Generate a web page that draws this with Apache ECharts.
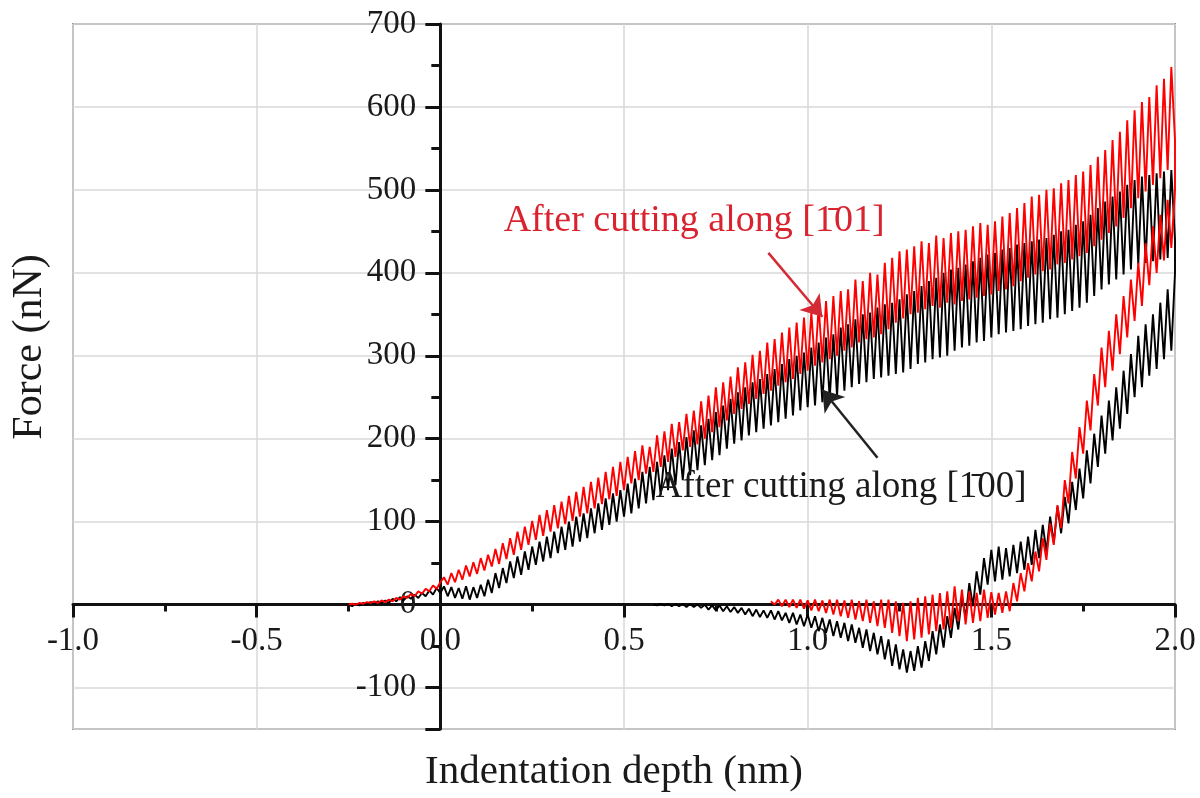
<!DOCTYPE html>
<html>
<head>
<meta charset="utf-8">
<script src="https://cdn.jsdelivr.net/npm/echarts@6/dist/echarts.min.js"></script>
<style>html,body{margin:0;padding:0;background:#fff}#c{width:1200px;height:798px}</style>
</head>
<body>
<div id="c"></div>
<script>
// ---------- DATA ----------
const xTitle = 'Indentation depth (nm)';
const yTitle = 'Force (nN)';
const seriesNames = ['After cutting along [1\u030400]', 'After cutting along [1\u030401]'];
const annotationTexts = ['After cutting along [1\u030400]', 'After cutting along [1\u030401]'];

// depth samples of the loading branch (nm)
const loadDepth = [
-0.25,-0.24,-0.23,-0.22,-0.21,-0.20,-0.19,-0.18,-0.17,-0.16,-0.15,-0.14,-0.13,-0.12,-0.11,-0.10,-0.09,-0.08,-0.07,-0.06,-0.05,-0.04,-0.03,-0.02,-0.01,
0.00,0.01,0.02,0.03,0.04,0.05,0.06,0.07,0.08,0.09,
0.10,0.11,0.12,0.13,0.14,0.15,0.16,0.17,0.18,0.19,
0.20,0.21,0.22,0.23,0.24,0.25,0.26,0.27,0.28,0.29,
0.30,0.31,0.32,0.33,0.34,0.35,0.36,0.37,0.38,0.39,
0.40,0.41,0.42,0.43,0.44,0.45,0.46,0.47,0.48,0.49,
0.50,0.51,0.52,0.53,0.54,0.55,0.56,0.57,0.58,0.59,
0.60,0.61,0.62,0.63,0.64,0.65,0.66,0.67,0.68,0.69,
0.70,0.71,0.72,0.73,0.74,0.75,0.76,0.77,0.78,0.79,
0.80,0.81,0.82,0.83,0.84,0.85,0.86,0.87,0.88,0.89,
0.90,0.91,0.92,0.93,0.94,0.95,0.96,0.97,0.98,0.99,
1.00,1.01,1.02,1.03,1.04,1.05,1.06,1.07,1.08,1.09,
1.10,1.11,1.12,1.13,1.14,1.15,1.16,1.17,1.18,1.19,
1.20,1.21,1.22,1.23,1.24,1.25,1.26,1.27,1.28,1.29,
1.30,1.31,1.32,1.33,1.34,1.35,1.36,1.37,1.38,1.39,
1.40,1.41,1.42,1.43,1.44,1.45,1.46,1.47,1.48,1.49,
1.50,1.51,1.52,1.53,1.54,1.55,1.56,1.57,1.58,1.59,
1.60,1.61,1.62,1.63,1.64,1.65,1.66,1.67,1.68,1.69,
1.70,1.71,1.72,1.73,1.74,1.75,1.76,1.77,1.78,1.79,
1.80,1.81,1.82,1.83,1.84,1.85,1.86,1.87,1.88,1.89,
1.90,1.91,1.92,1.93,1.94,1.95,1.96,1.97,1.98,1.99,
2.00];

// depth samples of the unloading branch (nm)
const unloadDepth = [
2.00,1.99,1.98,1.97,1.96,1.95,1.94,1.93,1.92,1.91,
1.90,1.89,1.88,1.87,1.86,1.85,1.84,1.83,1.82,1.81,
1.80,1.79,1.78,1.77,1.76,1.75,1.74,1.73,1.72,1.71,
1.70,1.69,1.68,1.67,1.66,1.65,1.64,1.63,1.62,1.61,
1.60,1.59,1.58,1.57,1.56,1.55,1.54,1.53,1.52,1.51,
1.50,1.49,1.48,1.47,1.46,1.45,1.44,1.43,1.42,1.41,
1.40,1.39,1.38,1.37,1.36,1.35,1.34,1.33,1.32,1.31,
1.30,1.29,1.28,1.27,1.26,1.25,1.24,1.23,1.22,1.21,
1.20,1.19,1.18,1.17,1.16,1.15,1.14,1.13,1.12,1.11,
1.10,1.09,1.08,1.07,1.06,1.05,1.04,1.03,1.02,1.01,
1.00,0.99,0.98,0.97,0.96,0.95,0.94,0.93,0.92,0.91,
0.90,0.89,0.88,0.87,0.86,0.85,0.84,0.83,0.82,0.81,
0.80,0.79,0.78,0.77,0.76,0.75,0.74,0.73,0.72,0.71,
0.70,0.69,0.68,0.67,0.66,0.65,0.64,0.63,0.62,0.61,
0.60,0.59,0.58];

// force (nN), after cutting along [-101] (red)
const redLoad = [
0,1,0,2,1,3,2,4,2,5,3,6,4,8,6,10,8,13,10,16,13,19,16,23,19,
27,33,24,38,27,42,30,47,34,51,
37,56,41,60,46,67,49,74,55,80,
60,88,66,94,72,101,78,108,83,114,
88,120,92,124,97,131,101,136,106,142,
110,148,116,153,121,160,127,166,131,172,
138,178,146,185,150,192,158,190,160,204,
166,209,172,218,178,220,186,230,190,234,
193,245,200,252,208,262,214,268,222,275,
230,286,236,292,242,301,248,306,254,316,
258,320,264,328,268,334,272,340,278,346,
282,352,288,360,292,366,296,372,300,378,
306,380,310,392,316,390,320,400,322,398,
326,412,332,418,340,426,345,428,350,432,
352,438,356,436,360,445,358,442,364,448,
362,450,366,452,368,456,370,460,372,458,
374,462,378,468,380,472,384,478,390,484,
394,492,398,494,402,500,404,502,410,508,
412,512,416,518,420,522,424,530,432,540,
440,548,448,560,456,570,466,584,478,596,
490,606,498,612,506,626,514,634,524,648,
560];
const redUnload = [
500,430,488,415,470,400,456,385,436,360,
412,342,392,322,372,302,350,282,330,262,
310,240,278,210,246,182,214,152,184,122,
150,92,120,72,98,54,80,40,64,28,
50,16,38,4,26,-8,16,-10,14,-12,
15,-16,18,-20,14,-22,16,-24,18,-20,
22,-28,16,-30,14,-32,12,-36,10,-40,
8,-42,4,-44,2,-38,4,-34,6,-28,
6,-26,4,-22,6,-20,4,-18,6,-16,
5,-14,6,-12,6,-10,5,-8,6,-7,
5,-5,6,-4,6,-3,6,-2,6,0,
4];

// force (nN), after cutting along [-100] (black)
const blackLoad = [
0,-2,1,-1,2,0,3,1,4,2,5,2,7,4,9,5,10,7,12,8,14,10,17,12,20,
14,22,10,21,8,20,7,22,6,21,
8,24,10,30,14,38,20,44,26,52,
32,58,36,64,42,70,48,76,52,82,
56,88,62,94,66,100,70,106,76,110,
80,116,86,122,90,128,96,134,100,138,
106,146,110,152,116,160,122,166,126,172,
132,180,138,188,144,196,150,202,156,210,
162,216,168,224,174,232,180,240,188,248,
194,256,198,262,204,268,208,272,212,278,
216,284,220,290,224,296,228,300,234,304,
238,310,240,316,244,322,248,326,252,334,
258,338,262,344,266,350,268,352,272,358,
274,362,276,364,278,368,280,374,284,378,
290,384,292,390,296,394,298,400,300,404,
306,406,310,410,312,414,316,418,318,422,
322,424,326,428,328,430,330,434,332,436,
336,438,338,440,340,442,344,446,346,450,
350,452,354,458,358,462,364,470,372,478,
380,486,386,492,392,498,398,506,404,512,
410,516,412,518,414,520,416,522,418,524,
440];
const blackUnload = [
400,306,380,296,364,284,350,276,338,262,
324,250,302,230,282,212,262,198,246,182,
228,166,206,146,186,128,164,114,148,98,
130,86,118,74,106,64,96,56,90,48,
82,42,76,38,72,34,68,30,70,28,
66,24,56,12,40,-2,26,-16,10,-30,
-4,-40,-14,-52,-24,-60,-32,-68,-44,-76,
-50,-80,-56,-82,-54,-78,-48,-74,-42,-66,
-38,-60,-34,-56,-30,-52,-28,-46,-24,-44,
-22,-40,-20,-38,-18,-34,-16,-32,-14,-28,
-12,-26,-12,-24,-10,-22,-10,-19,-8,-18,
-7,-16,-7,-15,-6,-14,-5,-12,-4,-10,
-3,-9,-2,-8,-1,-7,-1,-6,0,-4,
0,-3,1,-3,1,-2,1,-2,1,-1,
1,-1,0];

// axis ranges
const xRange = [-1, 2];
const yRange = [-150, 700];

// ---------- CHART ----------
function curve(load, unload) {
  const out = [];
  load.forEach((v, i) => out.push([loadDepth[i], v]));
  unload.forEach((v, i) => out.push([unloadDepth[i], v]));
  return out;
}

const FONT = 'Liberation Serif';
const G = { left: 73, right: 25, top: 24, bottom: 69 };
const W = 1200, H = 798;
const plotW = W - G.left - G.right;
const plotH = H - G.top - G.bottom;
// shift axes so that they cross at zero, labels following the lines
const xAxisOffset = -plotH * (0 - yRange[0]) / (yRange[1] - yRange[0]);
const yAxisOffset = -plotW * (0 - xRange[0]) / (xRange[1] - xRange[0]);

const axisColor = '#111';
const chart = echarts.init(document.getElementById('c'), null, { renderer: 'canvas' });
chart.setOption({
  animation: false,
  backgroundColor: '#fff',
  grid: { left: G.left, right: G.right, top: G.top, bottom: G.bottom, show: true,
          borderColor: '#8c8c8c', borderWidth: 2, backgroundColor: 'transparent' },
  xAxis: {
    type: 'value', min: xRange[0], max: xRange[1], interval: 0.5,
    position: 'bottom', offset: xAxisOffset,
    axisLine: { onZero: false, lineStyle: { color: axisColor, width: 3 } },
    axisTick: { show: true, inside: false, length: 13, lineStyle: { color: axisColor, width: 3 } },
    minorTick: { show: true, splitNumber: 2, length: 7, lineStyle: { color: axisColor, width: 3 } },
    axisLabel: { margin: 20, fontFamily: FONT, fontSize: 33, color: '#1a1a1a',
                 formatter: v => v.toFixed(1) },
    splitLine: { show: true, lineStyle: { color: '#d9d9d9', width: 1.5 } }
  },
  yAxis: {
    type: 'value', min: yRange[0], max: yRange[1], splitNumber: 8,
    position: 'left', offset: yAxisOffset,
    axisLine: { onZero: false, lineStyle: { color: axisColor, width: 3 } },
    axisTick: { show: true, inside: false, length: 15, lineStyle: { color: axisColor, width: 3 } },
    minorTick: { show: true, splitNumber: 2, length: 9, lineStyle: { color: axisColor, width: 3 } },
    axisLabel: { margin: 24, fontFamily: FONT, fontSize: 33, color: '#1a1a1a', showMinLabel: false,
                 formatter: v => (v === yRange[0] ? '' : String(v)) },
    splitLine: { show: true, lineStyle: { color: '#d9d9d9', width: 1.5 } }
  },
  graphic: [
    { type: 'text', x: 614, y: 772, silent: true,
      style: { text: xTitle, font: '41px "Liberation Serif"', fill: '#1a1a1a', align: 'center', verticalAlign: 'middle' } },
    { type: 'text', x: 30, y: 347, rotation: Math.PI / 2, silent: true,
      style: { text: yTitle, font: '42px "Liberation Serif"', fill: '#1a1a1a', align: 'center', verticalAlign: 'middle' } }
  ],
  series: [
    { name: seriesNames[0], type: 'line', data: curve(blackLoad, blackUnload),
      showSymbol: false, symbol: 'none', z: 2,
      lineStyle: { color: '#000000', width: 1.9 } },
    { name: seriesNames[1], type: 'line', data: curve(redLoad, redUnload),
      showSymbol: false, symbol: 'none', z: 3,
      lineStyle: { color: '#ff0000', width: 1.9 } },
    { type: 'line', data: [], z: 10, silent: true,
      markLine: {
        silent: true, symbol: ['none', 'arrow'], symbolSize: 20, animation: false,
        label: { show: false },
        data: [
          [ { coord: [0.893, 424], lineStyle: { color: '#d42a35', width: 2.5, type: 'solid' }, itemStyle: { color: '#d42a35' } },
            { coord: [1.040, 347], lineStyle: { color: '#d42a35', width: 2.5, type: 'solid' }, itemStyle: { color: '#d42a35' } } ],
          [ { coord: [1.190, 177], lineStyle: { color: '#222', width: 2.5, type: 'solid' }, itemStyle: { color: '#222' } },
            { coord: [1.040, 259], lineStyle: { color: '#222', width: 2.5, type: 'solid' }, itemStyle: { color: '#222' } } ]
        ]
      },
      markPoint: {
        silent: true, animation: false,
        data: [
          { coord: [0.171, 462], symbol: 'circle', symbolSize: 1, itemStyle: { color: 'rgba(0,0,0,0)' },
            label: { show: true, position: 'right', distance: 0, formatter: annotationTexts[1],
                     color: '#d9232f', fontSize: 38, fontFamily: FONT } },
          { coord: [0.585, 141], symbol: 'circle', symbolSize: 1, itemStyle: { color: 'rgba(0,0,0,0)' },
            label: { show: true, position: 'right', distance: 0, formatter: annotationTexts[0],
                     color: '#1a1a1a', fontSize: 37, fontFamily: FONT } }
        ]
      }
    }
  ]
});
</script>
</body>
</html>
